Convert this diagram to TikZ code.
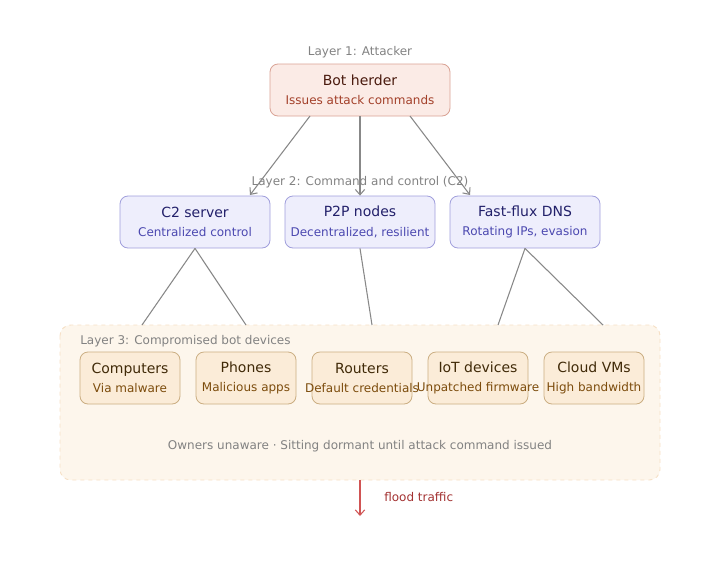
\documentclass[tikz,border=0pt]{standalone}
\usepackage{fontspec}
\setmainfont{DejaVu Sans}
\usepackage{tikz}
\usetikzlibrary{arrows.meta, positioning, calc}
\usepackage{xcolor}
\definecolor{atkfill}{HTML}{FBEBE6}
\definecolor{atkline}{HTML}{D9A294}
\definecolor{atktext}{HTML}{4A1A0E}
\definecolor{atksub}{HTML}{A3402A}
\definecolor{ccfill}{HTML}{EEEEFC}
\definecolor{ccline}{HTML}{A09EDC}
\definecolor{cctext}{HTML}{22206A}
\definecolor{ccsub}{HTML}{4B48B0}
\definecolor{botfill}{HTML}{FBECD8}
\definecolor{botline}{HTML}{CBAE82}
\definecolor{bottext}{HTML}{402A08}
\definecolor{botsub}{HTML}{7C4C0C}
\definecolor{zonefill}{HTML}{FDF6EC}
\definecolor{zoneline}{HTML}{F6E0C6}
\definecolor{lblgrey}{HTML}{828282}
\definecolor{edgegrey}{HTML}{888888}
\definecolor{floodred}{HTML}{D05454}
\definecolor{floodtext}{HTML}{A33232}

\begin{document}
\begin{tikzpicture}[x=0.75pt, y=-0.75pt,
    box/.style={draw, rounded corners=6pt, align=center, line width=0.6pt,
                inner sep=0pt, font=\fontsize{10.5}{14.5}\selectfont},
    herder/.style={box, fill=atkfill, draw=atkline, text=atktext,
                   minimum width=135pt, minimum height=39pt},
    ctrl/.style={box, fill=ccfill, draw=ccline, text=cctext,
                 minimum width=112.5pt, minimum height=39pt},
    bot/.style={box, fill=botfill, draw=botline, text=bottext,
                minimum width=75pt, minimum height=39pt},
    layer/.style={text=lblgrey, font=\fontsize{9}{11}\selectfont, inner sep=0pt},
    arr/.style={-{Straight Barb[length=4pt, width=7pt]}, edgegrey, line width=0.8pt},
    link/.style={edgegrey, line width=0.8pt}]
  \useasboundingbox (0,0) rectangle (720,564);

  % layer 3 zone
  \draw[fill=zonefill, draw=zoneline, dashed, rounded corners=8pt, line width=0.7pt]
    (60,325) rectangle (660,480);
  \coordinate (t1) at (142,325);
  \coordinate (t2) at (246,325);
  \coordinate (t3) at (372,325);
  \coordinate (t4) at (498,325);
  \coordinate (t5) at (603,325);

  % layer 1
  \node[layer] (l1) at (360,52) {Layer 1: Attacker};
  \node[herder] (herder) at (360,90)
    {Bot herder\\{\fontsize{9}{11}\selectfont\color{atksub}Issues attack commands}};

  % layer 2
  \node[ctrl] (c2) at (195,222)
    {C2 server\\{\fontsize{9}{11}\selectfont\color{ccsub}Centralized control}};
  \node[ctrl] (p2p) at (360,222)
    {P2P nodes\\{\fontsize{9}{11}\selectfont\color{ccsub}Decentralized, resilient}};
  \node[ctrl] (flux) at (525,222)
    {Fast-flux DNS\\{\fontsize{9}{11}\selectfont\color{ccsub}Rotating IPs, evasion}};

  \coordinate (h1) at (310,116);
  \coordinate (h3) at (410,116);
  \coordinate (c2in) at (250,195);
  \coordinate (fluxin) at (470,195);
  \draw[arr] (h1) -- (c2in);
  \draw[arr] (herder.south) -- (p2p.north);
  \draw[arr] (h3) -- (fluxin);
  \node[layer] (l2) at (360,182) {Layer 2: Command and control (C2)};

  \draw[link] (c2.south) -- (t1);
  \draw[link] (c2.south) -- (t2);
  \draw[link] (p2p.south) -- (t3);
  \draw[link] (flux.south) -- (t4);
  \draw[link] (flux.south) -- (t5);

  % layer 3
  \node[layer, anchor=west] (l3) at (80,341) {Layer 3: Compromised bot devices};
  \node[bot] (comp) at (130,378)
    {Computers\\{\fontsize{9}{11}\selectfont\color{botsub}Via malware}};
  \node[bot] (phone) at (246,378)
    {Phones\\{\fontsize{9}{11}\selectfont\color{botsub}Malicious apps}};
  \node[bot] (router) at (362,378)
    {Routers\\\makebox[0pt]{\fontsize{9}{11}\selectfont\color{botsub}Default credentials}};
  \node[bot] (iot) at (478,378)
    {IoT devices\\\makebox[0pt]{\fontsize{9}{11}\selectfont\color{botsub}Unpatched firmware}};
  \node[bot] (cloud) at (594,378)
    {Cloud VMs\\{\fontsize{9}{11}\selectfont\color{botsub}High bandwidth}};
  \node[layer] (note) at (360,446)
    {Owners unaware · Sitting dormant until attack command issued};

  % flood
  \coordinate (zoneout) at (360,480);
  \coordinate (target) at (360,516);
  \draw[-{Straight Barb[length=4pt, width=7pt]}, floodred, line width=0.8pt] (zoneout) -- (target);
  \node[text=floodtext, font=\fontsize{9}{11}\selectfont, anchor=west, inner sep=0pt]
    (flood) at (384,497) {flood traffic};
\end{tikzpicture}
\end{document}
